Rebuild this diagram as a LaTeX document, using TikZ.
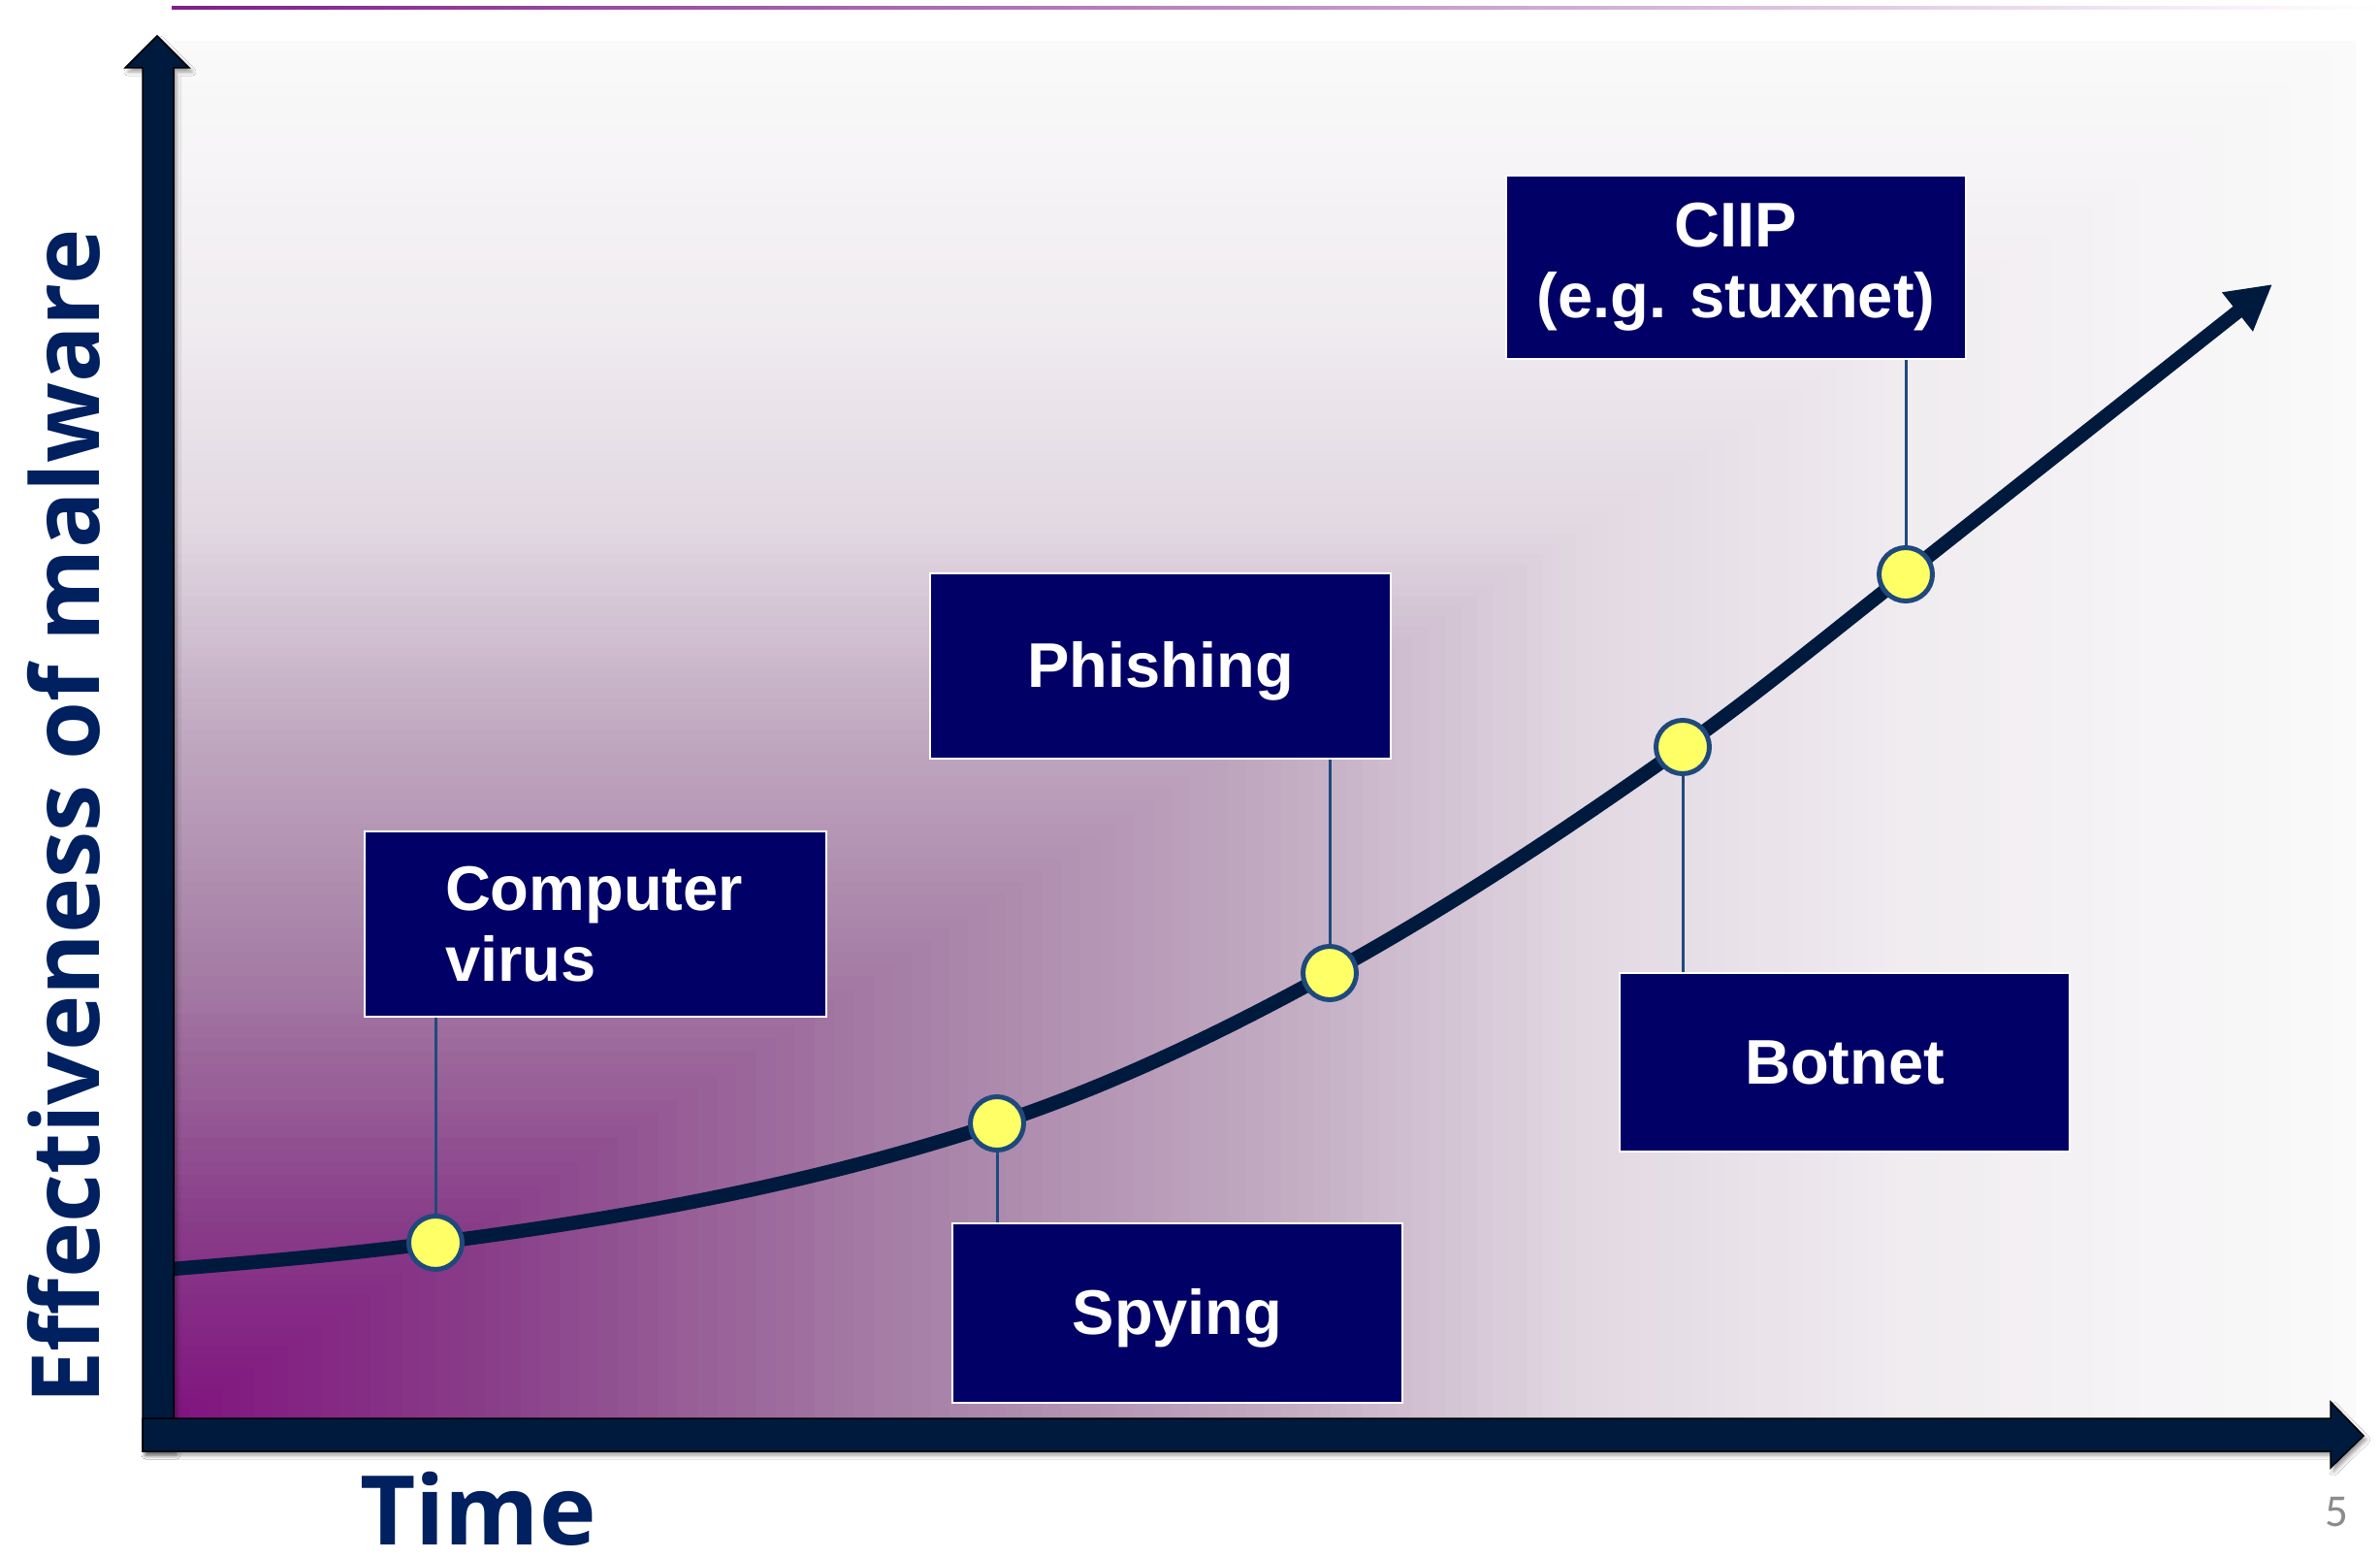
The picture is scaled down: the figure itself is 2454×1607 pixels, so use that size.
\documentclass[tikz,border=0pt]{standalone}
\usepackage{fontspec}
\usetikzlibrary{arrows.meta,shadows.blur}
\newfontfamily\boxfont{Liberation Sans}
\newfontfamily\axisfont{Open Sans}
\newfontfamily\pgnfont{Carlito}
\definecolor{axisnavy}{HTML}{001A3E}
\definecolor{boxnavy}{HTML}{000066}
\definecolor{labelblue}{HTML}{002060}
\definecolor{linkblue}{HTML}{1F497D}
\definecolor{dotyellow}{HTML}{FFFF66}
\definecolor{pagegray}{HTML}{8C8C8C}
\definecolor{toppurple}{HTML}{7F1F8A}
\definecolor{gA}{RGB}{128,19,127}
\definecolor{gB}{RGB}{137,62,137}
\definecolor{gC}{RGB}{165,125,165}
\definecolor{gD}{RGB}{192,168,192}
\definecolor{gE}{RGB}{226,216,226}
\definecolor{gF}{RGB}{240,236,240}
\definecolor{gG}{RGB}{250,250,250}
% one gradient segment: t from #1 to #2, colour #3 -> #4 (largest first)
\newcommand\mwseg[4]{%
  \foreach \i in {20,19,...,1}{%
    \pgfmathsetmacro\mwt{#1+(#2-#1)*\i/20}%
    \pgfmathsetmacro\mwp{100*\i/20}%
    \colorlet{mwcol}{#4!\mwp!#3}%
    \fill[mwcol] (179,1462) rectangle ({179+2250*\mwt},{1462-1420*\mwt});
  }}
\begin{document}
\begin{tikzpicture}[x=0.1mm,y=-0.1mm,
  box/.style={draw=white,line width=0.2mm,fill=boxnavy,text=white,
    font=\boxfont\bfseries\fontsize{18.5}{20.77}\selectfont,inner sep=0pt},
  dot/.style={circle,draw=linkblue,line width=0.5mm,fill=dotyellow,
    minimum size=5.5mm,inner sep=0pt},
  link/.style={draw=linkblue,line width=0.3mm},
  axisshape/.style={fill=axisnavy,draw=black,line width=0.15mm,
    blur shadow={shadow xshift=0.3mm,shadow yshift=-0.4mm,
      shadow blur radius=0.4mm,shadow opacity=40}},
  axlabel/.style={text=labelblue,inner sep=0pt}]
\useasboundingbox (0,0) rectangle (2454,1607);
\fill[white] (0,0) rectangle (2454,1607);
% background gradient (rectangular contours from the bottom-left corner)
\mwseg{0.8}{1.0}{gF}{gG}
\mwseg{0.65}{0.8}{gE}{gF}
\mwseg{0.5}{0.65}{gD}{gE}
\mwseg{0.33}{0.5}{gC}{gD}
\mwseg{0.15}{0.33}{gB}{gC}
\mwseg{0.0}{0.15}{gA}{gB}
% top rule
\shade[left color=toppurple,right color=white] (177,7) rectangle (2454,9.5);
% points on the curve
\coordinate (cstart) at (165,1309);
\coordinate (pv) at (449,1281);
\coordinate (ps) at (1028,1158);
\coordinate (pp) at (1371,1003);
\coordinate (pb) at (1735,770);
\coordinate (pc) at (1965,592);
\coordinate (ctip) at (2343,293);
\draw[axisnavy,line width=1.45mm,-{Triangle[length=4.6mm,width=4.8mm]}]
  (cstart) .. controls (269,1300.8) and (359,1292.7) .. (pv)
  .. controls (642,1255.9) and (835,1221.7) .. (ps)
  .. controls (1142.3,1120.3) and (1256.7,1065.9) .. (pp)
  .. controls (1492.3,936.3) and (1613.7,856.1) .. (pb)
  .. controls (1811.7,715.5) and (1888.3,652.2) .. (pc)
  -- (ctip);
% axes
\path[axisshape] (147,1496) -- (147,70) -- (129,70) -- (162,37) -- (195,70)
  -- (179,70) -- (179,1496) -- cycle;
\path[axisshape] (147,1462) -- (2403,1462) -- (2403,1445) -- (2437,1480)
  -- (2403,1513) -- (2403,1496) -- (147,1496) -- cycle;
% boxes
\node[box,minimum width=47.4mm,minimum height=18.9mm,align=center] (ciip)
  at (1790,275.5) {CIIP\\(e.g. stuxnet)};
\node[box,minimum width=47.5mm,minimum height=19.1mm,text height=5.2mm,text depth=0.8mm]
  (phish) at (1196.5,686.5) {Phishing};
\node[box,minimum width=47.6mm,minimum height=19.1mm,align=left,text width=31mm,
  inner xsep=8.3mm] (virus) at (614,952.5) {Computer\\virus};
\node[box,minimum width=46.4mm,minimum height=18.5mm,text height=5.2mm,text depth=0.8mm]
  (spy) at (1214,1353.5) {Spying};
\node[box,minimum width=46.4mm,minimum height=18.4mm,text height=5.2mm,text depth=0.8mm]
  (botnet) at (1902,1095) {Botnet};
% dots
\node[dot] (dv) at (pv) {};
\node[dot] (ds) at (ps) {};
\node[dot] (dp) at (pp) {};
\node[dot] (db) at (pb) {};
\node[dot] (dc) at (pc) {};
% connectors
\draw[link] (dv) -- (dv |- virus.south);
\draw[link] (ds) -- (ds |- spy.north);
\draw[link] (dp) -- (dp |- phish.south);
\draw[link] (db) -- (db |- botnet.north);
\draw[link] (dc) -- (dc |- ciip.south);
% labels
\node[axlabel,rotate=90,anchor=base,font=\axisfont\bfseries\fontsize{27.6}{33}\selectfont]
  (ylab) at (102,842) {Effectiveness of malware};
\node[axlabel,anchor=base,font=\axisfont\bfseries\fontsize{28.2}{34}\selectfont]
  (xlab) at (493,1592) {Time};
\node[text=pagegray,font=\pgnfont\fontsize{13.4}{16}\selectfont,anchor=base,inner sep=0pt]
  (pgnum) at (2409,1573) {5};
\end{tikzpicture}
\end{document}
